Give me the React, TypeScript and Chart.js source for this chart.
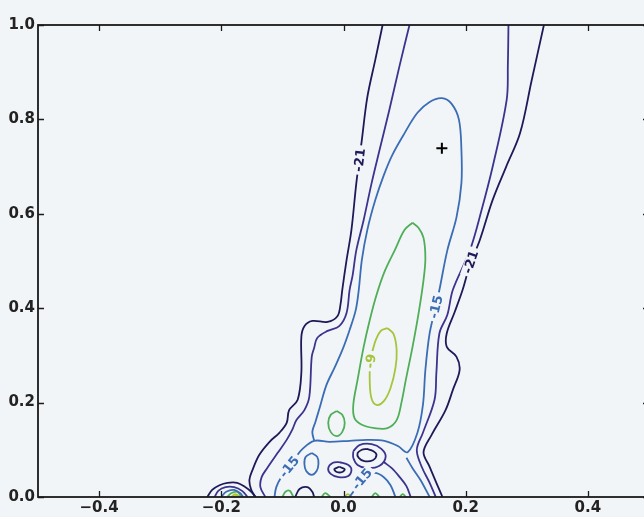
import React, { useEffect, useRef } from "react";
import { Chart, registerables } from "chart.js";
Chart.register(...registerables);

const BG = "#f2f5f7";

const xTicks = [-0.4, -0.2, 0.0, 0.2, 0.4];
const xTickLabels = ["\u22120.4", "\u22120.2", "0.0", "0.2", "0.4"];
const yTicks = [0.0, 0.2, 0.4, 0.6, 0.8, 1.0];
const yTickLabels = ["0.0", "0.2", "0.4", "0.6", "0.8", "1.0"];
const xRange = [-0.5, 0.5];
const yRange = [0, 1];

const levels = [-21, -18, -15, -12, -9, -6];
const levelColors = ["#1e1a5a", "#3b348f", "#3a6db5", "#4fae58", "#a5c53c", "#e5b92e"];

type P = [number, number];

// ---- level -21 ----
const c21Left: P[] = [[-0.144,0.000],[-0.151,0.015],[-0.154,0.036],[-0.149,0.057],[-0.138,0.089],[-0.121,0.117],[-0.105,0.136],[-0.093,0.157],[-0.089,0.184],[-0.075,0.206],[-0.069,0.263],[-0.069,0.339],[-0.064,0.362],[-0.051,0.373],[-0.026,0.371],[-0.010,0.383],[-0.005,0.407],[-0.002,0.439],[0.005,0.502],[0.013,0.566],[0.021,0.665],[0.030,0.756],[0.039,0.847],[0.052,0.926],[0.064,1.000]];
const c21Right: P[] = [[0.328,1.000],[0.308,0.883],[0.289,0.771],[0.266,0.699],[0.244,0.629],[0.223,0.544],[0.207,0.492],[0.195,0.439],[0.182,0.392],[0.169,0.347],[0.169,0.318],[0.185,0.297],[0.190,0.269],[0.179,0.227],[0.167,0.184],[0.144,0.131],[0.131,0.095],[0.141,0.064],[0.152,0.030],[0.162,0.000]];
const c21Cap: P[] = [[-0.223,0],[-0.215,0.015],[-0.203,0.025],[-0.190,0.030],[-0.174,0.030],[-0.161,0.021],[-0.151,0.011],[-0.144,0]];
const c21Oval: P[] = [[0.038,0.102],[0.049,0.097],[0.054,0.089],[0.048,0.078],[0.034,0.076],[0.025,0.083],[0.023,0.093],[0.030,0.100],[0.038,0.102]];
const c21Dot: P[] = [[-0.007,0.064],[0.002,0.059],[-0.002,0.053],[-0.011,0.053],[-0.015,0.059],[-0.007,0.064]];
const c21Arc: P[] = [[-0.079,0],[-0.072,0.017],[-0.059,0.021],[-0.051,0.011],[-0.048,0]];

// ---- level -18 ----
const c18Left: P[] = [[-0.128,0.000],[-0.136,0.021],[-0.134,0.042],[-0.125,0.061],[-0.108,0.093],[-0.093,0.121],[-0.084,0.142],[-0.077,0.163],[-0.064,0.184],[-0.056,0.212],[-0.052,0.297],[-0.048,0.316],[-0.043,0.337],[-0.026,0.352],[-0.007,0.362],[0.005,0.390],[0.010,0.439],[0.015,0.470],[0.021,0.523],[0.033,0.587],[0.046,0.665],[0.059,0.735],[0.075,0.820],[0.092,0.915],[0.108,1.000]];
const c18Right: P[] = [[0.270,1.000],[0.269,0.915],[0.267,0.841],[0.244,0.699],[0.226,0.608],[0.207,0.523],[0.179,0.439],[0.170,0.386],[0.157,0.347],[0.152,0.263],[0.149,0.206],[0.130,0.136],[0.120,0.100],[0.128,0.064],[0.141,0.030],[0.151,0.000]];
const c18Cap: P[] = [[-0.211,0],[-0.205,0.013],[-0.193,0.021],[-0.179,0.021],[-0.166,0.013],[-0.157,0]];
const c18Ring: P[] = [[0.016,0.097],[0.026,0.110],[0.046,0.112],[0.062,0.102],[0.069,0.085],[0.059,0.066],[0.039,0.061],[0.023,0.068],[0.016,0.083],[0.016,0.097]];
const c18Tail: P[] = [[0.066,0.074],[0.079,0.061],[0.092,0.042],[0.103,0.023],[0.110,0]];
const c18Dot: P[] = [[-0.007,0.074],[0.008,0.068],[0.013,0.057],[0.007,0.044],[-0.008,0.042],[-0.021,0.049],[-0.025,0.061],[-0.018,0.072],[-0.007,0.074]];

// ---- level -15 ----
const c15Main: P[] = [[-0.048,0.119],[-0.051,0.138],[-0.046,0.159],[-0.039,0.189],[-0.028,0.237],[-0.015,0.273],[-0.002,0.311],[0.010,0.354],[0.020,0.396],[0.025,0.439],[0.030,0.502],[0.039,0.566],[0.052,0.629],[0.066,0.682],[0.080,0.725],[0.100,0.771],[0.121,0.814],[0.141,0.837],[0.161,0.845],[0.177,0.833],[0.189,0.799],[0.193,0.735],[0.193,0.665],[0.185,0.593],[0.170,0.523],[0.157,0.439],[0.151,0.403],[0.141,0.347],[0.134,0.269],[0.130,0.195],[0.121,0.136],[0.105,0.095],[0.089,0.108],[0.067,0.119],[0.038,0.121],[0.010,0.119],[-0.023,0.117],[-0.048,0.119],[-0.067,0.102],[-0.079,0.083],[-0.089,0.064],[-0.102,0.042],[-0.110,0.021],[-0.113,0.000]];
const c15Foot: P[] = [[0.103,0.083],[0.113,0.061],[0.126,0.036],[0.141,0.000]];
const c15Oval: P[] = [[-0.052,0.093],[-0.043,0.085],[-0.041,0.070],[-0.044,0.055],[-0.052,0.047],[-0.061,0.055],[-0.064,0.070],[-0.062,0.085],[-0.052,0.093]];
const c15Arch: P[] = [[0.010,0],[0.018,0.015],[0.026,0.032],[0.036,0.044],[0.051,0.051],[0.066,0.042],[0.077,0.025],[0.085,0]];
const c15Cap: P[] = [[-0.200,0],[-0.192,0.011],[-0.179,0.015],[-0.169,0.008],[-0.164,0]];

// ---- level -12 ----
const c12Main: P[] = [[0.113,0.581],[0.100,0.566],[0.084,0.523],[0.067,0.477],[0.054,0.428],[0.043,0.375],[0.033,0.318],[0.023,0.248],[0.016,0.195],[0.018,0.167],[0.030,0.153],[0.051,0.146],[0.072,0.146],[0.087,0.163],[0.095,0.201],[0.102,0.248],[0.113,0.318],[0.123,0.390],[0.131,0.460],[0.134,0.506],[0.131,0.549],[0.123,0.570],[0.113,0.581]];
const c12Oval: P[] = [[-0.011,0.182],[-0.002,0.174],[0.002,0.157],[-0.002,0.138],[-0.011,0.129],[-0.021,0.138],[-0.025,0.157],[-0.021,0.174],[-0.011,0.182]];
const c12Cap: P[] = [[-0.190,0],[-0.184,0.008],[-0.174,0.011],[-0.167,0]];
const c12BitA: P[] = [[-0.100,0],[-0.095,0.011],[-0.088,0.013],[-0.082,0]];
const c12BitB: P[] = [[-0.036,0],[-0.030,0.008],[-0.021,0]];
const c12BitC: P[] = [[0.046,0],[0.052,0.008],[0.059,0]];
const c12BitD: P[] = [[0.092,0],[0.097,0.006],[0.102,0]];

// ---- level -9 ----
const c9Loop: P[] = [[0.072,0.358],[0.082,0.345],[0.087,0.311],[0.085,0.273],[0.077,0.231],[0.066,0.203],[0.054,0.195],[0.046,0.208],[0.043,0.242],[0.044,0.286],[0.051,0.326],[0.061,0.352],[0.072,0.358]];
const c9Cap: P[] = [[-0.184,0],[-0.177,0.006],[-0.170,0]];
const c9Bit: P[] = [[0.002,0],[0.007,0.006],[0.013,0]];

// ---- level -6 ----
const c6Cap: P[] = [[-0.180,0],[-0.175,0.004],[-0.171,0]];

const contours: { level: number; pts: P[] }[] = [
  { level: -21, pts: c21Left }, { level: -21, pts: c21Right }, { level: -21, pts: c21Cap },
  { level: -21, pts: c21Oval }, { level: -21, pts: c21Dot }, { level: -21, pts: c21Arc },
  { level: -18, pts: c18Left }, { level: -18, pts: c18Right }, { level: -18, pts: c18Cap },
  { level: -18, pts: c18Ring }, { level: -18, pts: c18Tail }, { level: -18, pts: c18Dot },
  { level: -15, pts: c15Main }, { level: -15, pts: c15Foot }, { level: -15, pts: c15Oval },
  { level: -15, pts: c15Arch }, { level: -15, pts: c15Cap },
  { level: -12, pts: c12Main }, { level: -12, pts: c12Oval }, { level: -12, pts: c12Cap },
  { level: -12, pts: c12BitA }, { level: -12, pts: c12BitB }, { level: -12, pts: c12BitC }, { level: -12, pts: c12BitD },
  { level: -9, pts: c9Loop }, { level: -9, pts: c9Cap }, { level: -9, pts: c9Bit },
  { level: -6, pts: c6Cap },
];

// contour labels (data coords)
const labelTexts = ["-21", "-21", "-15", "-9", "-15", "-15"];
const labelLevels = [-21, -21, -15, -9, -15, -15];
const labelX = [0.026, 0.208, 0.151, 0.044, -0.089, 0.030];
const labelY = [0.714, 0.498, 0.403, 0.288, 0.064, 0.038];
const labelAngles = [-83, -71, -77, -82, -51, -50];

// optimum marker
const optimumX = [0.161];
const optimumY = [0.739];

const colorFor = (lv: number) => levelColors[levels.indexOf(lv)];
const FONT = '"DejaVu Sans", "Liberation Sans", sans-serif';

const overlay = {
  id: "overlay",
  beforeDraw(chart: any) {
    const ctx = chart.ctx;
    ctx.save();
    ctx.fillStyle = BG;
    ctx.fillRect(0, 0, chart.width, chart.height);
    ctx.restore();
  },
  afterDatasetsDraw(chart: any) {
    const ctx = chart.ctx;
    const sx = chart.scales.x, sy = chart.scales.y;
    ctx.save();
    ctx.font = `bold 13px ${FONT}`;
    ctx.textAlign = "center";
    ctx.textBaseline = "middle";
    labelTexts.forEach((t, i) => {
      const px = sx.getPixelForValue(labelX[i]);
      const py = sy.getPixelForValue(labelY[i]);
      ctx.save();
      ctx.translate(px, py);
      ctx.rotate((labelAngles[i] * Math.PI) / 180);
      const w = ctx.measureText(t).width;
      ctx.fillStyle = BG;
      ctx.fillRect(-w / 2 - 3, -6, w + 6, 12);
      ctx.fillStyle = colorFor(labelLevels[i]);
      ctx.fillText(t, 0, 1);
      ctx.restore();
    });
    ctx.restore();
  },
  afterDraw(chart: any) {
    const ctx = chart.ctx;
    const a = chart.chartArea;
    const sx = chart.scales.x, sy = chart.scales.y;
    ctx.save();
    ctx.strokeStyle = "#1a1a1a";
    ctx.lineWidth = 1.8;
    ctx.strokeRect(a.left, a.top, a.right - a.left, a.bottom - a.top);
    ctx.lineWidth = 1.3;
    const L = 6;
    ctx.beginPath();
    xTicks.forEach((v) => {
      const px = Math.round(sx.getPixelForValue(v)) + 0.5;
      ctx.moveTo(px, a.bottom); ctx.lineTo(px, a.bottom - L);
      ctx.moveTo(px, a.top); ctx.lineTo(px, a.top + L);
    });
    yTicks.forEach((v) => {
      const py = Math.round(sy.getPixelForValue(v)) + 0.5;
      ctx.moveTo(a.left, py); ctx.lineTo(a.left + L, py);
      ctx.moveTo(a.right, py); ctx.lineTo(a.right - L, py);
    });
    ctx.stroke();
    ctx.restore();
  },
};

export default function App() {
  const ref = useRef<HTMLCanvasElement>(null);
  useEffect(() => {
    const canvas = ref.current!;
    const datasets: any[] = contours.map((c) => ({
      data: c.pts.map(([x, y]) => ({ x, y })),
      showLine: true,
      borderColor: colorFor(c.level),
      backgroundColor: colorFor(c.level),
      borderWidth: 1.8,
      pointRadius: 0,
      pointHoverRadius: 0,
      tension: 0.35,
      fill: false,
    }));
    datasets.push({
      data: optimumX.map((x, i) => ({ x, y: optimumY[i] })),
      showLine: false,
      pointStyle: "cross",
      pointRadius: 5.5,
      borderColor: "#000",
      backgroundColor: "#000",
      borderWidth: 2,
    });
    const tickFont = { family: FONT, size: 15, weight: "bold" as const };
    const chart = new Chart(canvas, {
      type: "scatter",
      data: { datasets },
      options: {
        responsive: false,
        animation: false,
        devicePixelRatio: 1,
        events: [],
        layout: { padding: { top: 25, right: 11, left: 0, bottom: 0 } },
        plugins: { legend: { display: false }, tooltip: { enabled: false } },
        scales: {
          x: {
            type: "linear",
            min: xRange[0],
            max: xRange[1],
            grid: { display: false, drawTicks: false },
            border: { display: false },
            afterBuildTicks: (s: any) => { s.ticks = xTicks.map((v) => ({ value: v })); },
            afterFit: (s: any) => { s.height = 20; },
            ticks: {
              autoSkip: false, maxRotation: 0, padding: 2, color: "#222", font: tickFont,
              callback: (_v: any, i: number) => xTickLabels[i],
            },
          },
          y: {
            type: "linear",
            min: yRange[0],
            max: yRange[1],
            grid: { display: false, drawTicks: false },
            border: { display: false },
            afterBuildTicks: (s: any) => { s.ticks = yTicks.map((v) => ({ value: v })); },
            afterFit: (s: any) => { s.width = 38; },
            ticks: {
              autoSkip: false, padding: 3, color: "#222", font: tickFont,
              callback: (_v: any, i: number) => yTickLabels[i],
            },
          },
        },
      } as any,
      plugins: [overlay],
    });
    return () => chart.destroy();
  }, []);
  return (
    <div style={{ position: "fixed", left: 0, top: 0, width: 644, height: 517, overflow: "hidden", background: BG }}>
      <canvas ref={ref} width={660} height={517} style={{ display: "block", width: 660, height: 517 }} />
    </div>
  );
}
